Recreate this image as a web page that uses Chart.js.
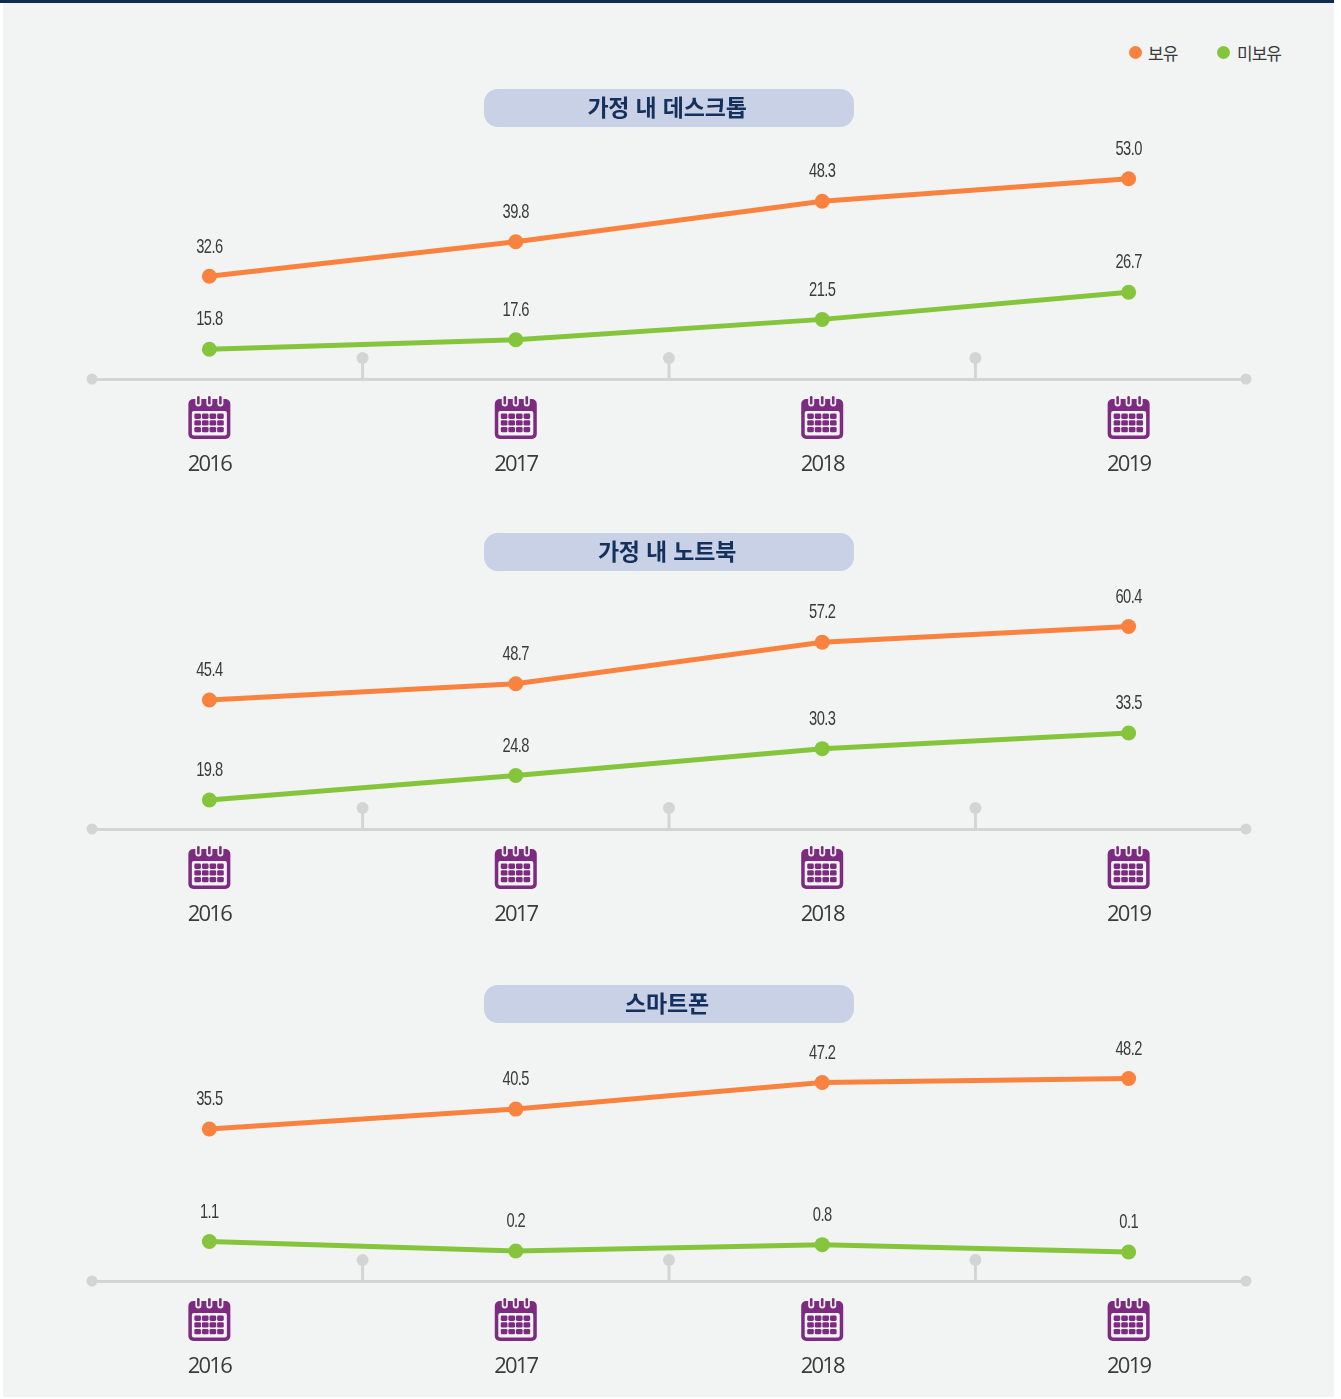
<!DOCTYPE html>
<html lang="ko">
<head>
  <meta charset="UTF-8">
  <title>가정 내 컴퓨터 및 스마트폰 보유</title>
  <script src="https://cdn.jsdelivr.net/npm/chart.js"></script>
  <style>
    html, body { margin: 0; padding: 0; background: #fff; }
    body { position: relative; width: 1341px; height: 1399px; overflow: hidden; font-family: "Noto Sans CJK KR", sans-serif; }
    .panel { position: absolute; left: 3px; top: 0; width: 1331px; height: 1397px; background: #f2f4f3; }
    .topbar { position: absolute; left: 0; top: 0; width: 1334px; height: 3px; background: #0f2b52; }
    .pill {
      position: absolute; left: 484px; width: 366px; padding-right: 4px; height: 38px; line-height: 35px;
      background: #c8d1e6; border-radius: 14px; text-align: center;
      color: #14305c; font-size: 23px; font-weight: 700; letter-spacing: -0.2px; z-index: 2;
    }
    .legend span { position: absolute; top: 41px; font-size: 17px; font-weight: 400; color: #3a3a3a; letter-spacing: -1px; line-height: 24px; }
    .legend i { position: absolute; top: 46px; width: 13px; height: 13px; border-radius: 50%; }
    canvas { position: absolute; left: 0; z-index: 1; }
  </style>
</head>
<body>
  <div class="panel"></div>
  <div class="topbar"></div>
  <div class="legend">
    <i style="left:1129px;background:#f9833e"></i><span style="left:1148px">보유</span>
    <i style="left:1217px;background:#85c53c"></i><span style="left:1237px">미보유</span>
  </div>
  <div class="pill" style="top:89px">가정 내 데스크톱</div>
  <div class="pill" style="top:533px">가정 내 노트북</div>
  <div class="pill" style="top:985px">스마트폰</div>

  <canvas id="desktop" width="1341" height="450" style="top:29px"></canvas>
  <canvas id="notebook" width="1341" height="450" style="top:479px"></canvas>
  <canvas id="smartphone" width="1341" height="450" style="top:931px"></canvas>

  <script>
    const years = [2016, 2017, 2018, 2019];
    const seriesNames = ['보유', '미보유'];

    const desktopOwn = [32.6, 39.8, 48.3, 53.0];
    const desktopNone = [15.8, 17.6, 21.5, 26.7];
    const notebookOwn = [45.4, 48.7, 57.2, 60.4];
    const notebookNone = [19.8, 24.8, 30.3, 33.5];
    const phoneOwn = [35.5, 40.5, 47.2, 48.2];
    const phoneNone = [1.1, 0.2, 0.8, 0.1];

    const ORANGE = '#f9833e';
    const GREEN = '#85c53c';
    const LINE_GREY = '#d3d5d5';
    const PURPLE = '#7c2b80';
    const PANEL = '#f2f4f3';

    // each series sits on its own hidden axis, the source drew them independently
    const timeline = {
      id: 'timeline',
      beforeDraw(chart) {
        chart.ctx.letterSpacing = '-1.8px';
      },
      afterDraw(chart) {
        const ctx = chart.ctx;
        const x = chart.scales.x;
        const base = chart.chartArea.bottom;
        ctx.save();
        ctx.letterSpacing = '0px';
        ctx.fillStyle = LINE_GREY;
        // end dots
        [x.left, x.right].forEach(px => {
          ctx.beginPath();
          ctx.arc(px, base, 5.5, 0, Math.PI * 2);
          ctx.fill();
        });
        // half year pins
        years.slice(0, -1).forEach(y => {
          const px = x.getPixelForValue(y + 0.5);
          ctx.fillRect(px - 1.5, base - 21, 3, 21);
          ctx.beginPath();
          ctx.arc(px, base - 21, 6, 0, Math.PI * 2);
          ctx.fill();
        });
        years.forEach(y => drawCalendar(ctx, x.getPixelForValue(y), base));
        ctx.restore();

        // value labels above points, squeezed like the condensed face in the source
        ctx.save();
        ctx.font = '21px "Liberation Sans", sans-serif';
        ctx.letterSpacing = '-0.8px';
        ctx.fillStyle = '#3a3a3a';
        ctx.textAlign = 'center';
        ctx.textBaseline = 'middle';
        chart.data.datasets.forEach((ds, i) => {
          chart.getDatasetMeta(i).data.forEach((pt, j) => {
            ctx.save();
            ctx.translate(pt.x, pt.y - 29.5);
            ctx.scale(0.7, 1);
            ctx.fillText(ds.data[j].y.toFixed(1), 0, 0);
            ctx.restore();
          });
        });
        ctx.restore();
      }
    };

    function drawCalendar(ctx, cx, base) {
      const top = base + 20;
      ctx.fillStyle = PURPLE;
      ctx.beginPath();
      ctx.roundRect(cx - 21, top, 42, 40, 5);
      ctx.fill();
      ctx.fillStyle = PANEL;
      ctx.beginPath();
      ctx.roundRect(cx - 17.5, top + 12, 35, 24.5, 2);
      ctx.fill();
      ctx.fillStyle = PURPLE;
      for (let r = 0; r < 3; r++) {
        for (let c = 0; c < 4; c++) {
          ctx.beginPath();
          ctx.roundRect(cx - 15 + c * 7.6, top + 14.5 + r * 6.7, 6.6, 5.4, 1.4);
          ctx.fill();
        }
      }
      [-11, 0, 11].forEach(dx => {
        ctx.fillStyle = PANEL;
        ctx.beginPath();
        ctx.roundRect(cx + dx - 3, top - 3, 6, 10.5, 3);
        ctx.fill();
        ctx.fillStyle = PURPLE;
        ctx.beginPath();
        ctx.roundRect(cx + dx - 1.3, top - 3, 2.6, 8.5, 1.3);
        ctx.fill();
      });
    }

    function toPoints(values) {
      return values.map((v, i) => ({ x: years[i], y: v }));
    }

    function makeChart(id, own, none, ownRange, noneRange) {
      return new Chart(document.getElementById(id), {
        type: 'line',
        data: {
          datasets: [
            { label: seriesNames[0], data: toPoints(own), yAxisID: 'yOwn', borderColor: ORANGE, backgroundColor: ORANGE },
            { label: seriesNames[1], data: toPoints(none), yAxisID: 'yNone', borderColor: GREEN, backgroundColor: GREEN }
          ]
        },
        options: {
          responsive: false,
          animation: false,
          devicePixelRatio: 1,
          layout: { padding: { left: 92, right: 95, top: 10, bottom: 0 } },
          elements: {
            line: { borderWidth: 5, tension: 0 },
            point: { radius: 7.5, borderWidth: 0 }
          },
          plugins: { legend: { display: false }, tooltip: { enabled: false } },
          scales: {
            x: {
              type: 'linear',
              min: 2015.617,
              max: 2019.383,
              afterBuildTicks(scale) { scale.ticks = years.map(v => ({ value: v })); },
              afterFit(scale) { scale.height = 100; },
              grid: { display: false, drawTicks: false },
              border: { display: true, color: LINE_GREY, width: 3 },
              ticks: {
                autoSkip: false,
                maxRotation: 0,
                padding: 73,
                color: '#3a3a3a',
                font: { family: '"Open Sans"', size: 22, weight: '400' },
                callback: v => String(v)
              }
            },
            yOwn: { display: false, min: ownRange[0], max: ownRange[1] },
            yNone: { display: false, min: noneRange[0], max: noneRange[1] }
          }
        },
        plugins: [timeline]
      });
    }

    makeChart('desktop', desktopOwn, desktopNone, [11.1, 82.23], [10.1, 75.11]);
    makeChart('notebook', notebookOwn, notebookNone, [19.07, 88.46], [13.87, 83.40]);
    makeChart('smartphone', phoneOwn, phoneNone, [-2.69, 82.74], [-2.66, 29.72]);
  </script>
</body>
</html>
